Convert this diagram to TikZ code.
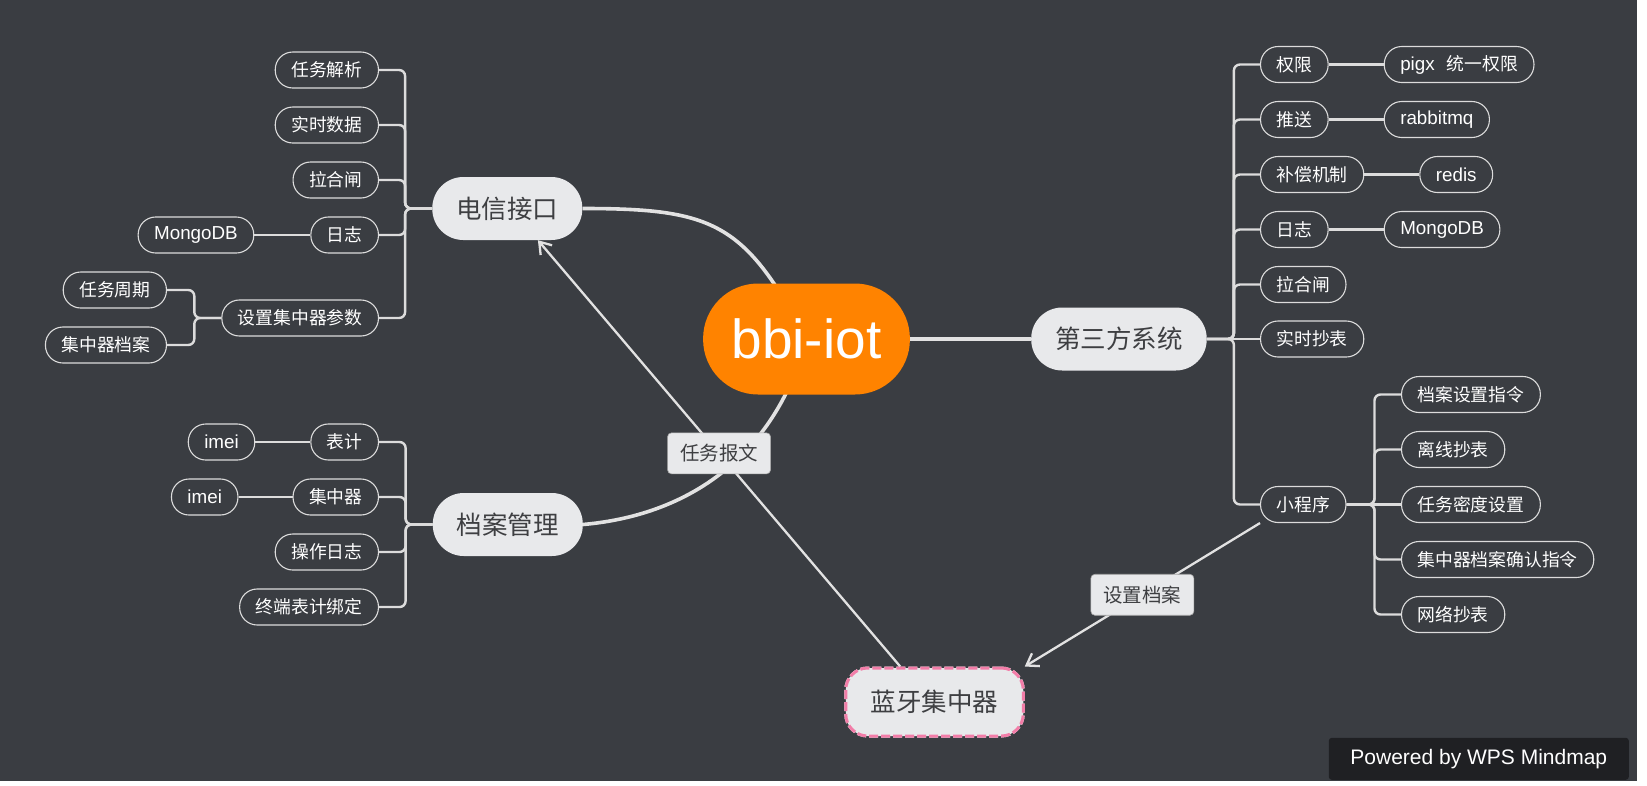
\documentclass[tikz,border=0pt]{standalone}
\usepackage{fontspec}
\setmainfont{Noto Sans CJK SC}
\newfontfamily\latfont{Liberation Sans}
\usepackage{tikz}
\usetikzlibrary{positioning,arrows.meta,backgrounds}
\usepackage{xcolor}
\definecolor{canvasbg}{HTML}{3A3D42}
\definecolor{edge}{HTML}{E2E2E2}
\definecolor{leafline}{HTML}{DCDCDC}
\definecolor{topicfill}{HTML}{E8E9EB}
\definecolor{topictext}{HTML}{3E3F42}
\definecolor{rootorange}{HTML}{FF8300}
\definecolor{lanyapink}{HTML}{F27DA8}
\definecolor{wpsfill}{HTML}{1F2023}
\pgfdeclarelayer{canvas}
\pgfdeclarelayer{background}
\pgfsetlayers{canvas,background,main}

\begin{document}
\begin{tikzpicture}[
  x=1pt, y=-1pt,
  leaf/.style    = {draw=leafline, line width=1.1pt, text=white, rounded corners=17.5pt,
                    minimum height=36pt, inner xsep=16pt, inner ysep=0pt,
                    font=\fontsize{17.8}{20}\selectfont},
  latleaf/.style = {leaf, font=\latfont\fontsize{18.8}{20}\selectfont},
  topic/.style   = {fill=topicfill, text=topictext, rounded corners=31pt,
                    minimum height=63pt, inner xsep=24pt,
                    font=\fontsize{25.5}{28}\selectfont},
  lanya/.style   = {topic, draw=lanyapink, line width=3pt, dash pattern=on 9pt off 3pt,
                    preaction={draw=white, line width=3pt},
                    rounded corners=22pt, minimum height=68pt, inner xsep=25pt},
  root/.style    = {fill=rootorange, text=white, rounded corners=55pt,
                    minimum height=111pt, inner xsep=28.5pt,
                    font=\latfont\fontsize{55}{60}\selectfont},
  lbl/.style     = {fill=topicfill, draw=gray!70, line width=0.6pt, rounded corners=4pt,
                    text=topictext, minimum height=41pt, inner xsep=12.5pt,
                    font=\fontsize{19.5}{22}\selectfont},
  wps/.style     = {fill=wpsfill, text=white, rounded corners=3pt, minimum width=300pt,
                    minimum height=42pt, font=\latfont\fontsize{21}{24}\selectfont},
  trunk/.style   = {draw=edge, line width=3.6pt},
  br/.style      = {draw=leafline, line width=2.4pt, rounded corners=6pt},
  rel/.style     = {draw=edge, line width=2.3pt, -{Straight Barb[length=11pt,width=15pt]}},
]

\useasboundingbox (0,0) rectangle (1647,785);
\begin{pgfonlayer}{canvas}
  \fill[white] (0,0) rectangle (1647,785);
  \fill[canvasbg] (0,0) rectangle (1637,781);
\end{pgfonlayer}

% ---------------- root and main topics -----------------------------------
\node[root] (iot) at (806.5,339) {bbi-iot};
\node[topic, anchor=east] (dx)  at (582.5,208.5) {电信接口};
\node[topic, anchor=east] (da)  at (583,524.5)   {档案管理};
\node[topic, anchor=west] (dsf) at (1031,339)    {第三方系统};
\node[lanya] (ly) at (934.5,702) {蓝牙集中器};

% ---------------- 电信接口 -----------------------------------------------
\node[leaf, anchor=east] (rwjx) at (379,70)  {任务解析};
\node[leaf, anchor=east] (sssj) at (379,125) {实时数据};
\node[leaf, anchor=east] (lhz)  at (379,180) {拉合闸};
\node[leaf, anchor=east] (rz)   at (379,235) {日志};
\node[latleaf, left=56pt of rz] (mongo) {MongoDB};
\node[leaf, anchor=east] (szcs)  at (379,318) {设置集中器参数};
\node[leaf, anchor=east] (rwzq)  at (167,290) {任务周期};
\node[leaf, anchor=east] (jzqda) at (167,345) {集中器档案};

% ---------------- 档案管理 -----------------------------------------------
\node[leaf, anchor=east] (bj)   at (379,442) {表计};
\node[latleaf, left=55pt of bj] (bjimei) {imei};
\node[leaf, anchor=east] (jzq)  at (379,497) {集中器};
\node[latleaf, left=54pt of jzq] (jzqimei) {imei};
\node[leaf, anchor=east] (czrz) at (379,552) {操作日志};
\node[leaf, anchor=east] (bdbj) at (379,607) {终端表计绑定};

% ---------------- 第三方系统 ---------------------------------------------
\node[leaf, anchor=west] (qx)   at (1260,64.5)  {权限};
\node[leaf, right=55pt of qx] (pigx)
  {{\latfont\fontsize{18.8}{20}\selectfont pigx}\hspace{12pt}统一权限};
\node[leaf, anchor=west] (ts)   at (1260,119.5) {推送};
\node[latleaf, right=55pt of ts] (mq) {rabbitmq};
\node[leaf, anchor=west] (bc)   at (1260,174.5) {补偿机制};
\node[latleaf, right=55pt of bc] (redis) {redis};
\node[leaf, anchor=west] (rz2)  at (1260,229.5) {日志};
\node[latleaf, right=55pt of rz2] (mongo2) {MongoDB};
\node[leaf, anchor=west] (lhz2) at (1260,284.5) {拉合闸};
\node[leaf, anchor=west] (sscb) at (1260,339)   {实时抄表};
\node[leaf, anchor=west] (xcx)  at (1260,504.5) {小程序};

% 小程序
\node[leaf, anchor=west] (dasz) at (1401,394.5) {档案设置指令};
\node[leaf, anchor=west] (lxcb) at (1401,449.5) {离线抄表};
\node[leaf, anchor=west] (rwmd) at (1401,504.5) {任务密度设置};
\node[leaf, anchor=west] (qrzl) at (1401,559.5) {集中器档案确认指令};
\node[leaf, anchor=west] (wlcb) at (1401,614.5) {网络抄表};

\node[wps, anchor=south east] (wm) at (1629,780) {Powered by WPS Mindmap};

% ---------------- connectors ---------------------------------------------
\begin{scope}[on background layer]
\draw[trunk] (dx.east) to[out=0, in=118, looseness=1.3] (iot.center);
\draw[trunk] (da.east) to[out=5, in=-105] (iot.center);
\draw[trunk] (iot.east) -- (dsf.west);

% left brackets
\draw[br] (dx.west) -- ++(-27,0) |- (rwjx.east);
\draw[br] (dx.west) -- ++(-27,0) |- (sssj.east);
\draw[br] (dx.west) -- ++(-27,0) |- (lhz.east);
\draw[br] (dx.west) -- ++(-27,0) |- (rz.east);
\draw[br] (dx.west) -- ++(-27,0) |- (szcs.east);
\draw[br] (rz.west) -- (mongo.east);
\draw[br] (szcs.west) -- ++(-27,0) |- (rwzq.east);
\draw[br] (szcs.west) -- ++(-27,0) |- (jzqda.east);

\draw[br] (da.west) -- ++(-27,0) |- (bj.east);
\draw[br] (da.west) -- ++(-27,0) |- (jzq.east);
\draw[br] (da.west) -- ++(-27,0) |- (czrz.east);
\draw[br] (da.west) -- ++(-27,0) |- (bdbj.east);
\draw[br] (bj.west) -- (bjimei.east);
\draw[br] (jzq.west) -- (jzqimei.east);

% right brackets
\draw[br] (dsf.east) -- ++(27,0) |- (qx.west);
\draw[br] (dsf.east) -- ++(27,0) |- (ts.west);
\draw[br] (dsf.east) -- ++(27,0) |- (bc.west);
\draw[br] (dsf.east) -- ++(27,0) |- (rz2.west);
\draw[br] (dsf.east) -- ++(27,0) |- (lhz2.west);
\draw[br] (dsf.east) -- (sscb.west);
\draw[br] (dsf.east) -- ++(27,0) |- (xcx.west);
\draw[br] (qx.east) -- (pigx.west);
\draw[br] (ts.east) -- (mq.west);
\draw[br] (bc.east) -- (redis.west);
\draw[br] (rz2.east) -- (mongo2.west);

\draw[br] (xcx.east) -- ++(28,0) |- (dasz.west);
\draw[br] (xcx.east) -- ++(28,0) |- (lxcb.west);
\draw[br] (xcx.east) -- (rwmd.west);
\draw[br] (xcx.east) -- ++(28,0) |- (qrzl.west);
\draw[br] (xcx.east) -- ++(28,0) |- (wlcb.west);

% relations
\draw[rel] (ly.134) -- node[lbl] (rwbw) {任务报文} (dx.-46);
\draw[rel] (xcx.south west) -- node[lbl] (szda) {设置档案} (ly.north east);
\end{scope}

\end{tikzpicture}
\end{document}
